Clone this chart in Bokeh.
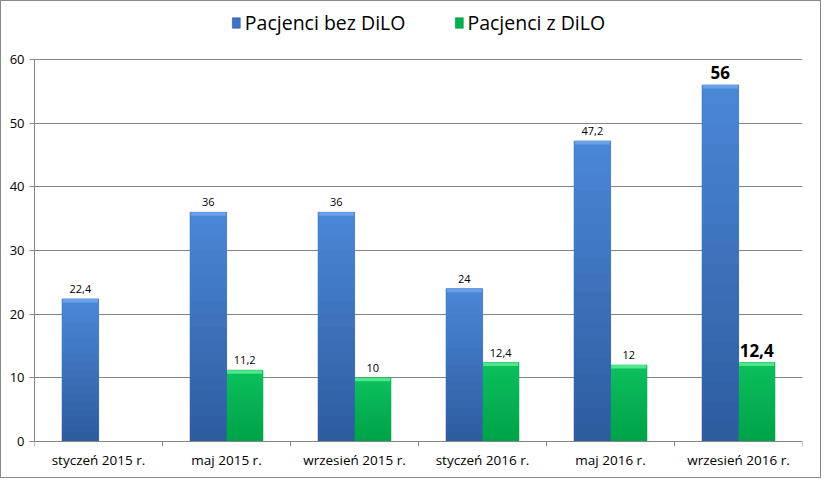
from bokeh.plotting import figure
from bokeh.models import ColumnDataSource, FixedTicker, Legend, LegendItem, Span
from bokeh.transform import dodge
from bokeh.embed import file_html
from bokeh.resources import INLINE
from bokeh.core.properties import value

categories = ["styczeń 2015 r.", "maj 2015 r.", "wrzesień 2015 r.",
              "styczeń 2016 r.", "maj 2016 r.", "wrzesień 2016 r."]
bez_dilo = [22.4, 36, 36, 24, 47.2, 56]
z_dilo = [float("nan"), 11.2, 10, 12.4, 12, 12.4]
y_ticks = [0, 10, 20, 30, 40, 50, 60]
series_names = ["Pacjenci bez DiLO", "Pacjenci z DiLO"]

FONT = "Open Sans"

def fmt(v):
    if v != v:
        return ""
    return ("%g" % v).replace(".", ",")

def mix(c1, c2, t):
    a = [int(c1[i:i + 2], 16) for i in (1, 3, 5)]
    b = [int(c2[i:i + 2], 16) for i in (1, 3, 5)]
    return "#%02x%02x%02x" % tuple(round(a[k] + (b[k] - a[k]) * t) for k in range(3))

src = ColumnDataSource(dict(cat=categories, bez=bez_dilo, z=z_dilo))
last = len(categories) - 1
src_small = ColumnDataSource(dict(
    cat=categories[:last], bez=bez_dilo[:last], z=z_dilo[:last],
    bez_lbl=[fmt(v) for v in bez_dilo[:last]], z_lbl=[fmt(v) for v in z_dilo[:last]],
))
src_big = ColumnDataSource(dict(
    cat=categories[last:], bez=bez_dilo[last:], z=z_dilo[last:],
    bez_lbl=[fmt(v) for v in bez_dilo[last:]], z_lbl=[fmt(v) for v in z_dilo[last:]],
))

p = figure(x_range=categories, y_range=(-0.785, 69.11), width=821, height=478,
           output_backend="svg", toolbar_location=None,
           min_border_left=33, min_border_right=20, min_border_top=0, min_border_bottom=33)
p.outline_line_color = None
p.background_fill_color = "white"
p.border_fill_color = "white"
p.styles = {"border": "1px solid #8a8a8a"}

BLUE = "#3d73c4"
GREEN = "#00b050"
W = 0.285
OFF = 0.142

r1 = p.vbar(x=dodge("cat", -OFF, range=p.x_range), top="bez", bottom=0, width=W, source=src,
            fill_color=BLUE, line_color="#2d5a9a", line_width=0.6)
r2 = p.vbar(x=dodge("cat", OFF, range=p.x_range), top="z", bottom=0, width=W, source=src,
            fill_color=GREEN, line_color="#009444", line_width=0.6)

# vertical shading: lighter at the top, darker towards the baseline
STEPS = 18
b_top, b_bot = "#4a86d6", "#2d5d9f"
g_top, g_bot = "#0cbf5c", "#00a349"
for i in range(STEPS):
    f = 1 - i / STEPS
    t = i / (STEPS - 1)
    sh = ColumnDataSource(dict(cat=categories,
                               bez=[v * f for v in bez_dilo],
                               z=[v * f for v in z_dilo]))
    p.vbar(x=dodge("cat", -OFF, range=p.x_range), top="bez", bottom=0, width=W - 0.004,
           source=sh, fill_color=mix(b_top, b_bot, t), line_color=None)
    p.vbar(x=dodge("cat", OFF, range=p.x_range), top="z", bottom=0, width=W - 0.004,
           source=sh, fill_color=mix(g_top, g_bot, t), line_color=None)

# top highlight caps
p.vbar(x=dodge("cat", -OFF, range=p.x_range), top="bez", bottom=dodge("bez", -0.55), width=W - 0.01,
       source=src, fill_color="#6aa2ea", line_color=None)
p.vbar(x=dodge("cat", OFF, range=p.x_range), top="z", bottom=dodge("z", -0.55), width=W - 0.01,
       source=src, fill_color="#4ee88a", line_color=None)

for s, size, style in [(src_small, "11px", "normal"), (src_big, "17px", "bold")]:
    p.text(x=dodge("cat", -OFF, range=p.x_range), y="bez", text="bez_lbl", source=s,
           text_align="center", text_baseline="bottom", y_offset=-6,
           text_font=value(FONT), text_font_size=size, text_font_style=style, text_color="black")
    p.text(x=dodge("cat", OFF, range=p.x_range), y="z", text="z_lbl", source=s,
           text_align="center", text_baseline="bottom", y_offset=-6,
           text_font=value(FONT), text_font_size=size, text_font_style=style, text_color="black")

# x-axis baseline and boundary ticks
p.add_layout(Span(location=0, dimension="width", line_color="#868686", line_width=1))
tick_x = [(c, -0.5) for c in categories] + [(categories[-1], 0.5)]
p.segment(x0=tick_x, y0=[0] * len(tick_x), x1=tick_x, y1=[-0.785] * len(tick_x),
          line_color="#868686", line_width=1)

p.xaxis.axis_line_color = None
p.xaxis.major_tick_line_color = None
p.xaxis.minor_tick_line_color = None
p.xaxis.major_tick_out = 0
p.xaxis.major_tick_in = 0
p.xaxis.major_label_standoff = 4
p.xaxis.major_label_text_font = FONT
p.xaxis.major_label_text_font_size = "13.5px"
p.xaxis.major_label_text_color = "black"
p.xgrid.grid_line_color = None

p.yaxis.ticker = FixedTicker(ticks=y_ticks)
p.yaxis.bounds = (0, 60)
p.yaxis.axis_line_color = "#868686"
p.yaxis.major_tick_line_color = "#868686"
p.yaxis.major_tick_out = 5
p.yaxis.major_tick_in = 0
p.yaxis.minor_tick_line_color = None
p.yaxis.major_label_standoff = 5
p.yaxis.major_label_text_font = FONT
p.yaxis.major_label_text_font_size = "13px"
p.yaxis.major_label_text_color = "black"
p.ygrid.ticker = FixedTicker(ticks=y_ticks[1:])
p.ygrid.grid_line_color = "#868686"
p.ygrid.grid_line_width = 1

legend = Legend(items=[LegendItem(label=series_names[0], renderers=[r1]),
                       LegendItem(label=series_names[1], renderers=[r2])],
                orientation="horizontal", location="top_center",
                label_text_font=FONT, label_text_font_size="19.5px", label_text_color="black",
                glyph_width=10, glyph_height=13, label_standoff=4, spacing=48,
                border_line_color=None, background_fill_alpha=0,
                margin=8, padding=2)
p.add_layout(legend)

open("out.html", "w").write(file_html(p, INLINE))
